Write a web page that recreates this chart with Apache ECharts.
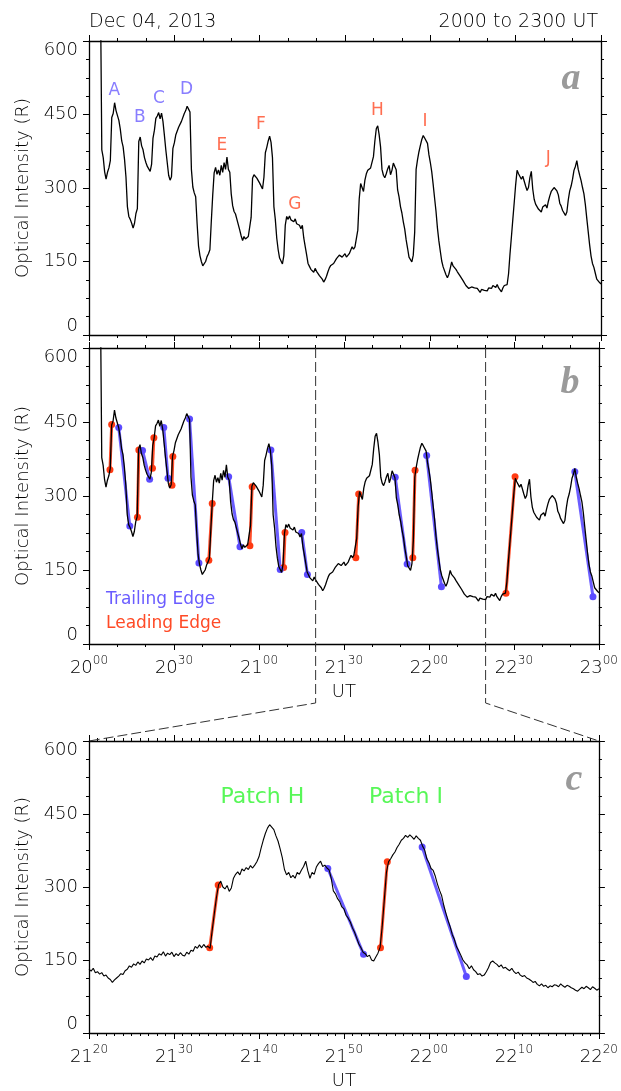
<!DOCTYPE html>
<html>
<head>
<meta charset="utf-8">
<script src="https://cdn.jsdelivr.net/npm/echarts@6/dist/echarts.min.js"></script>
<style>
html, body { margin: 0; padding: 0; background: #fff; }
#chart { width: 621px; height: 1091px; }
</style>
</head>
<body>
<div id="chart"></div>
<script>
// optical intensity (R), one value every 30 s, first sample at 20:04 UT
var startMinute = 4;
var stepMinute = 0.5;
var intensity = [
	720, 378, 362, 333, 318, 332, 341, 356, 444, 452,
	474, 458, 462, 438, 420, 396, 384, 358, 322, 262,
	242, 236, 228, 218, 228, 248, 258, 395, 404, 386,
	378, 362, 352, 344, 341, 334, 348, 402, 418, 442,
	447, 454, 441, 453, 436, 408, 378, 352, 326, 316,
	323, 381, 392, 408, 412, 424, 426, 436, 438, 452,
	458, 467, 461, 455, 338, 302, 290, 282, 228, 182,
	162, 150, 141, 144, 150, 160, 166, 174, 232, 286,
	331, 342, 328, 337, 326, 346, 332, 352, 338, 363,
	338, 332, 288, 264, 252, 247, 236, 233, 214, 202,
	193, 201, 196, 198, 201, 197, 240, 320, 327, 331,
	320, 319, 310, 306, 298, 322, 372, 383, 396, 406,
	393, 362, 262, 236, 198, 174, 157, 151, 145, 162,
	224, 242, 236, 243, 235, 239, 231, 237, 227, 231,
	224, 217, 224, 198, 181, 164, 146, 140, 134, 133,
	128, 136, 130, 126, 121, 119, 114, 108, 113, 120,
	129, 137, 142, 144, 146, 149, 156, 157, 163, 164,
	159, 163, 166, 159, 163, 166, 169, 180, 175, 180,
	176, 214, 278, 309, 301, 293, 316, 329, 336, 337,
	341, 344, 364, 396, 421, 427, 409, 384, 338, 326,
	321, 329, 339, 346, 327, 336, 351, 344, 337, 296,
	282, 262, 249, 231, 216, 194, 177, 159, 157, 149,
	163, 210, 338, 358, 374, 387, 399, 407, 402, 401,
	391, 368, 352, 333, 307, 279, 252, 218, 192, 171,
	151, 139, 137, 123, 117, 124, 136, 149, 141, 137,
	134, 129, 126, 120, 117, 111, 109, 101, 101, 95,
	94, 98, 97, 96, 98, 95, 92, 87, 93, 96,
	91, 95, 90, 96, 97, 95, 101, 102, 97, 103,
	96, 94, 88, 96, 101, 105, 103, 125, 165, 200,
	236, 271, 307, 336, 329, 326, 318, 324, 323, 304,
	295, 301, 321, 334, 298, 277, 267, 263, 257, 256,
	251, 261, 262, 266, 259, 273, 284, 293, 297, 301,
	304, 294, 286, 269, 263, 254, 251, 244, 251, 276,
	294, 304, 318, 336, 344, 356, 338, 326, 315, 301,
	288, 266, 238, 211, 184, 161, 146, 138, 126, 114,
	111, 107, 104
];

// finer read of 21:20-22:20 (panel c), one value every 15 s
var detailStart = 80;
var detailStep = 0.25;
var detailIntensity = [
	131, 127, 133, 124, 126, 121, 124, 117,
	119, 113, 110, 104, 109, 113, 117, 122,
	120, 128, 131, 138, 135, 142, 139, 146,
	141, 148, 144, 152, 150, 155, 149, 158,
	156, 163, 160, 167, 158, 164, 161, 166,
	157, 163, 159, 165, 160, 158, 166, 162,
	170, 168, 178, 174, 181, 175, 182, 176,
	178, 174, 212, 246, 279, 305, 312, 300,
	296, 303, 291, 298, 318, 326, 331, 325,
	337, 333, 340, 336, 344, 339, 345, 352,
	362, 380, 396, 410, 421, 428, 423, 418,
	405, 394, 378, 360, 336, 325, 330, 319,
	324, 318, 330, 326, 335, 342, 353, 333,
	318, 330, 326, 341, 348, 353, 342, 345,
	339, 335, 318, 292, 286, 276, 270, 259,
	255, 242, 236, 228, 216, 207, 195, 183,
	175, 166, 163, 157, 160, 150, 148, 156,
	164, 176, 219, 274, 330, 352, 358, 366,
	372, 381, 388, 396, 400, 406, 402, 407,
	403, 398, 405, 400, 396, 384, 376, 358,
	350, 338, 334, 322, 306, 293, 282, 262,
	246, 231, 218, 202, 192, 177, 169, 160,
	150, 144, 140, 132, 138, 130, 126, 120,
	122, 117, 119, 126, 134, 145, 148, 144,
	141, 136, 140, 133, 135, 131, 128, 133,
	126, 122, 125, 119, 116, 118, 113, 111,
	108, 104, 106, 100, 97, 101, 96, 98,
	93, 97, 95, 99, 98, 95, 101, 97,
	94, 98, 96, 93, 91, 88, 86, 90,
	94, 91, 96, 93, 89, 95, 92, 88,
	91
];

// edges: [start minute, start R, end minute, end R]
var leadingEdges = [
	[7.4, 353, 8.0, 445], [17.1, 257, 17.6, 393], [22.4, 356, 22.9, 418],
	[29.3, 322, 29.6, 380], [42.3, 170, 43.5, 285], [56.8, 199, 57.6, 319],
	[68.7, 155, 69.2, 226], [94.2, 175, 95.2, 304], [114.3, 175, 115.1, 352],
	[147.2, 103, 150.4, 339]
];
var trailingEdges = [
	[10.5, 439, 14.4, 239], [18.9, 392, 21.4, 334], [26.4, 439, 27.9, 336],
	[35.5, 456, 38.8, 164], [49.3, 339, 53.3, 197], [64.2, 393, 67.5, 151],
	[75.1, 226, 77.1, 141], [108.1, 338, 112.3, 162], [119.2, 382, 124.4, 116],
	[171.5, 349, 177.9, 96]
];

var peakNames = ['A', 'B', 'C', 'D', 'E', 'F', 'G', 'H', 'I', 'J'];
var peakTimes = [8.9, 17.9, 24.6, 34.3, 46.7, 60.4, 72.4, 101.4, 118.1, 161.5];
var peakLevels = [498, 444, 482, 501, 386, 430, 267, 457, 435, 360];
var bluePeaks = ['A', 'B', 'C', 'D'];

var patchNames = ['Patch H', 'Patch I'];
var patchTimes = [100.4, 117.3];
var patchLevels = [485, 485];

var yTicks = [0, 150, 300, 450, 600];
var overviewTicks = [0, 30, 60, 90, 120, 150, 180];
var zoomTicks = [80, 90, 100, 110, 120, 130, 140];

var FONT = 'DejaVu Sans';
var BLUE = '#5b4bff';
var RED = '#ff3a12';
var BLUE_TXT = '#6a5cff';
var RED_TXT = '#ff4a26';

var chart = echarts.init(document.getElementById('chart'));

var curve = intensity.map(function (v, i) {
	return [startMinute + i * stepMinute, v];
});
var detailCurve = detailIntensity.map(function (v, i) {
	return [detailStart + i * detailStep, v];
});

function pad(n) { return n < 10 ? '0' + n : '' + n; }
function utLabel(v) {
	var h = 20 + Math.floor(v / 60);
	var m = Math.round(v % 60);
	return '{h|' + h + '}{m|' + pad(m) + '}';
}

var ink = { color: '#000', width: 1.3 };

function bottomX(gi, ticks, minor, labels) {
	return {
		type: 'value', gridIndex: gi, position: 'bottom',
		min: ticks[0], max: ticks[ticks.length - 1], interval: ticks[1] - ticks[0],
		axisLine: { show: true, onZero: false, lineStyle: ink },
		axisTick: { show: true, length: 6, lineStyle: { color: '#000' } },
		minorTick: { show: true, splitNumber: minor, length: 3, lineStyle: { color: '#000' } },
		splitLine: { show: false },
		axisLabel: {
			show: labels, margin: 11, showMinLabel: true, showMaxLabel: true,
			formatter: utLabel,
			rich: {
				h: { fontSize: 18, lineHeight: 26, color: '#000', fontFamily: FONT, fontWeight: 200 },
				m: { fontSize: 12, lineHeight: 12, verticalAlign: 'top', color: '#000', fontFamily: FONT, fontWeight: 200 }
			}
		},
		name: labels ? 'UT' : '', nameLocation: 'middle', nameGap: 39,
		nameTextStyle: { fontSize: 18, color: '#000', fontFamily: FONT, fontWeight: 200 }
	};
}
function topX(gi, ticks, minor) {
	return {
		type: 'value', gridIndex: gi, position: 'top',
		min: ticks[0], max: ticks[ticks.length - 1], interval: ticks[1] - ticks[0],
		axisLine: { show: true, onZero: false, lineStyle: ink },
		axisTick: { show: true, length: 6, lineStyle: { color: '#000' } },
		minorTick: { show: true, splitNumber: minor, length: 3, lineStyle: { color: '#000' } },
		splitLine: { show: false },
		axisLabel: { show: false }
	};
}
function leftY(gi) {
	return {
		type: 'value', gridIndex: gi, position: 'left',
		min: yTicks[0], max: yTicks[yTicks.length - 1], interval: yTicks[1] - yTicks[0],
		axisLine: { show: true, onZero: false, lineStyle: ink },
		axisTick: { show: true, length: 6, lineStyle: { color: '#000' } },
		minorTick: { show: true, splitNumber: 4, length: 3, lineStyle: { color: '#000' } },
		splitLine: { show: false },
		axisLabel: {
			fontSize: 18, color: '#000', margin: 11, fontFamily: FONT, fontWeight: 200,
			showMinLabel: true, showMaxLabel: true,
			verticalAlignMaxLabel: 'top', verticalAlignMinLabel: 'bottom'
		},
		name: 'Optical Intensity (R)', nameLocation: 'middle', nameRotate: 90, nameGap: 55,
		nameTextStyle: { fontSize: 18, color: '#000', fontFamily: FONT, fontWeight: 200 }
	};
}
function rightY(gi) {
	return {
		type: 'value', gridIndex: gi, position: 'right',
		min: yTicks[0], max: yTicks[yTicks.length - 1], interval: yTicks[1] - yTicks[0],
		axisLine: { show: true, onZero: false, lineStyle: ink },
		axisTick: { show: true, length: 6, lineStyle: { color: '#000' } },
		minorTick: { show: true, splitNumber: 4, length: 3, lineStyle: { color: '#000' } },
		splitLine: { show: false },
		axisLabel: { show: false }
	};
}

function curveSeries(ai, data, w) {
	return {
		type: 'line', xAxisIndex: ai, yAxisIndex: ai, data: data,
		showSymbol: false, symbol: 'none', clip: true, z: 5,
		lineStyle: { color: '#000', width: w }
	};
}
function edgeSeries(ai, edges, color, lo, hi) {
	var out = [];
	edges.forEach(function (e) {
		if (e[0] < lo || e[2] > hi) return;
		out.push({
			type: 'line', xAxisIndex: ai, yAxisIndex: ai,
			data: [[e[0], e[1]], [e[2], e[3]]],
			symbol: 'circle', symbolSize: 7, showSymbol: true, z: 3,
			lineStyle: { color: color, width: 3, opacity: 0.9 },
			itemStyle: { color: color }
		});
	});
	return out;
}

var peakData = peakNames.map(function (n, i) {
	return {
		name: n, value: [peakTimes[i], peakLevels[i]],
		label: { color: bluePeaks.indexOf(n) >= 0 ? BLUE_TXT : RED_TXT }
	};
});
var patchData = patchNames.map(function (n, i) {
	return { name: n, value: [patchTimes[i], patchLevels[i]] };
});

var series = [
	curveSeries(0, curve, 1.3), curveSeries(2, curve, 1.3), curveSeries(4, detailCurve, 1.1),
	{
		type: 'scatter', xAxisIndex: 0, yAxisIndex: 0, data: peakData,
		symbolSize: 0, z: 6,
		label: { show: true, position: 'inside', formatter: '{b}', fontSize: 17, fontFamily: FONT }
	},
	{
		type: 'scatter', xAxisIndex: 4, yAxisIndex: 4, data: patchData,
		symbolSize: 0, z: 6,
		label: { show: true, position: 'inside', formatter: '{b}', fontSize: 22, color: '#2ef52e', fontFamily: FONT }
	}
];
series = series
	.concat(edgeSeries(2, leadingEdges, RED, 0, 180))
	.concat(edgeSeries(2, trailingEdges, BLUE, 0, 180))
	.concat(edgeSeries(4, leadingEdges, RED, 80, 140))
	.concat(edgeSeries(4, trailingEdges, BLUE, 80, 140));

var option = {
	animation: false,
	backgroundColor: '#fff',
	grid: [
		{ left: 89, top: 41, width: 512, height: 294 },
		{ left: 89, top: 348, width: 512, height: 296 },
		{ left: 89, top: 741, width: 512, height: 295 }
	],
	xAxis: [
		bottomX(0, overviewTicks, 3, false), topX(0, overviewTicks, 3),
		bottomX(1, overviewTicks, 3, true), topX(1, overviewTicks, 3),
		bottomX(2, zoomTicks, 10, true), topX(2, zoomTicks, 10)
	],
	yAxis: [
		leftY(0), rightY(0),
		leftY(1), rightY(1),
		leftY(2), rightY(2)
	],
	series: series
};
chart.setOption(option);

function px(ai, x, y) {
	return chart.convertToPixel({ xAxisIndex: ai, yAxisIndex: ai }, [x, y]);
}
var bTopL = px(2, zoomTicks[0], 600), bTopR = px(2, zoomTicks[zoomTicks.length - 1], 600);
var bBottom = px(2, 0, 0)[1];
var knee = bBottom + 59;
var cL = px(4, zoomTicks[0], 600), cR = px(4, zoomTicks[zoomTicks.length - 1], 600);

var dash = { stroke: '#333', lineWidth: 1, lineDash: [10, 4], fill: null };
var txt = function (x, y, text, color, size, align, weight) {
	return {
		type: 'text', x: x, y: y, z: 20,
		style: {
			text: text, fill: color, fontSize: size, fontFamily: FONT, fontWeight: weight,
			align: align || 'left', verticalAlign: 'middle'
		}
	};
};
var letter = function (x, y, t) {
	return {
		type: 'text', x: x, y: y, z: 20,
		style: {
			text: t, fill: '#9a9a9a', fontSize: 38, fontFamily: 'Liberation Serif',
			fontWeight: 'bold', fontStyle: 'italic', align: 'center', verticalAlign: 'middle'
		}
	};
};

chart.setOption({
	graphic: [
		{ type: 'polyline', z: 10, shape: { points: [[bTopL[0], bTopL[1]], [bTopL[0], knee], [cL[0], cL[1]]] }, style: dash },
		{ type: 'polyline', z: 10, shape: { points: [[bTopR[0], bTopR[1]], [bTopR[0], knee], [cR[0], cR[1]]] }, style: dash },
		txt(89, 22, 'Dec 04, 2013', '#000', 19, 'left', 200),
		txt(598, 22, '2000 to 2300 UT', '#000', 19, 'right', 200),
		txt(106, 600, 'Trailing Edge', BLUE_TXT, 17, 'left', 'normal'),
		txt(106, 624, 'Leading Edge', RED_TXT, 17, 'left', 'normal'),
		letter(571, 79, 'a'),
		letter(570, 383, 'b'),
		letter(574, 780, 'c')
	]
});
</script>
</body>
</html>
